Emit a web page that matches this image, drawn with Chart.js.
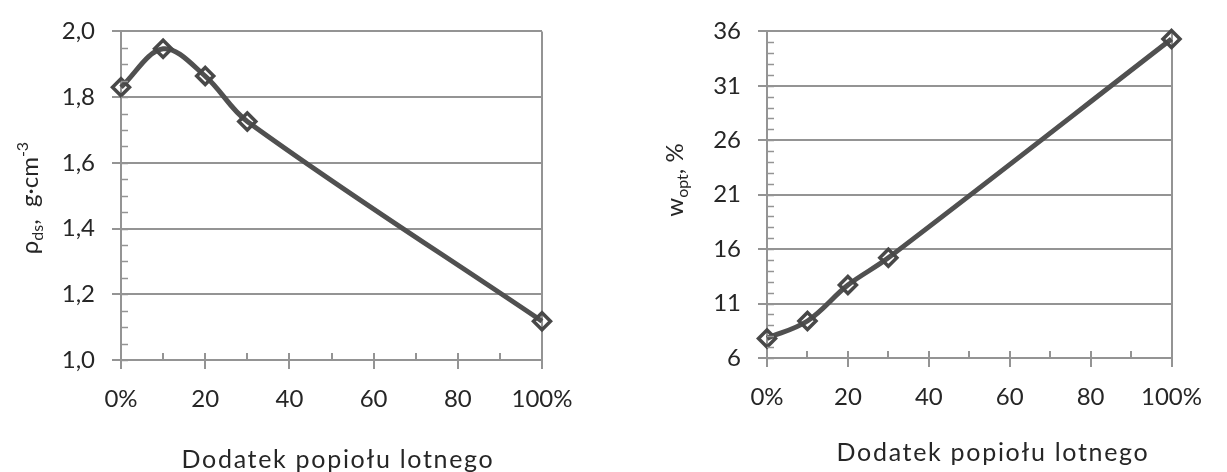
<!DOCTYPE html>
<html>
<head>
<meta charset="utf-8">
<script src="https://cdn.jsdelivr.net/npm/chart.js@4"></script>
<style>
  html, body { margin: 0; padding: 0; background: #fff; }
  #wrap { position: relative; width: 1227px; height: 472px; }
  .box { position: absolute; top: 0; height: 472px; }
  #b1 { left: 0; width: 600px; }
  #b2 { left: 600px; width: 627px; }
</style>
</head>
<body>
<div id="wrap">
  <div class="box" id="b1"><canvas id="chart1"></canvas></div>
  <div class="box" id="b2"><canvas id="chart2"></canvas></div>
</div>
<script>
// values
const additive = [0, 10, 20, 30, 100];
const density = [1.83, 1.947, 1.864, 1.726, 1.118];
const moisture = [7.8, 9.4, 12.7, 15.2, 35.3];
const xTicks = [0, 20, 40, 60, 80, 100];
const densityTicks = [1.0, 1.2, 1.4, 1.6, 1.8, 2.0];
const moistureTicks = [6, 11, 16, 21, 26, 31, 36];
const xTitle = 'Dodatek popiołu lotnego';

const FONT = 'Lato';
const gridColor = '#949494';
const lineColor = '#505050';
const textColor = '#262626';

function xLabel(v) {
  if (v === 0 || v === 100) return v + '%';
  return String(v);
}

// draws text with sub/superscripts, centred on (x, y)
function drawRich(ctx, parts, x, y, rotate, size, spacing) {
  const small = Math.round(size * 0.66);
  ctx.save();
  ctx.translate(x, y);
  if (rotate) ctx.rotate(-Math.PI / 2);
  ctx.fillStyle = textColor;
  ctx.textBaseline = 'alphabetic';
  ctx.textAlign = 'left';
  ctx.letterSpacing = (spacing || 0) + 'px';
  let total = 0;
  parts.forEach(p => {
    ctx.font = (p.m ? small : size) + 'px ' + FONT;
    p.w = ctx.measureText(p.t).width;
    total += p.w;
  });
  let cx = -total / 2;
  parts.forEach(p => {
    ctx.font = (p.m ? small : size) + 'px ' + FONT;
    let dy = 8;
    if (p.m === 'sub') dy = 13;
    if (p.m === 'sup') dy = -2;
    ctx.fillText(p.t, cx, dy);
    cx += p.w;
  });
  ctx.restore();
}

function extras(opts) {
  return {
    id: 'extras',
    afterDraw(chart) {
      const ctx = chart.ctx;
      const x = chart.scales.x;
      const y = chart.scales.y;
      const a = chart.chartArea;
      ctx.save();
      ctx.strokeStyle = gridColor;
      ctx.lineWidth = 1.5;
      // minor ticks on the y axis, inside the plot
      for (let v = y.min; v < y.max - 1e-9; v += opts.minorY) {
        const py = Math.round(y.getPixelForValue(v)) + 0.5;
        ctx.beginPath();
        ctx.moveTo(a.left, py);
        ctx.lineTo(a.left + 7, py);
        ctx.stroke();
      }
      // x ticks: majors cross the axis, minors above it
      ctx.lineWidth = 2;
      for (let v = 0; v <= 100; v += 10) {
        const px = Math.round(x.getPixelForValue(v));
        const major = v % 20 === 0;
        ctx.beginPath();
        ctx.moveTo(px, a.bottom - 7);
        ctx.lineTo(px, a.bottom + (major ? 9 : 0));
        ctx.stroke();
      }
      ctx.restore();
      drawRich(ctx, [{ t: xTitle }], opts.xt[0], opts.xt[1], false, 25, 1.7);
      drawRich(ctx, opts.yParts, opts.yt[0], opts.yt[1], true, 24, 0);
    }
  };
}

function makeChart(id, values, yTicks, yMin, yMax, fmt, leftW, padRight, padTop, xH, plugin) {
  return new Chart(document.getElementById(id), {
    type: 'line',
    data: {
      datasets: [{
        data: additive.map((v, i) => ({ x: v, y: values[i] })),
        borderColor: lineColor,
        borderWidth: 5,
        tension: 0.35,
        pointStyle: 'rectRot',
        pointRadius: 8.5,
        pointBorderWidth: 3.5,
        pointBorderColor: '#484848',
        pointBackgroundColor: 'rgba(255,255,255,0)',
        clip: false,
      }],
    },
    options: {
      responsive: true,
      maintainAspectRatio: false,
      animation: false,
      layout: { padding: { left: 0, right: padRight, top: padTop, bottom: 0 } },
      plugins: { legend: { display: false }, tooltip: { enabled: false } },
      scales: {
        x: {
          type: 'linear',
          min: 0,
          max: 100,
          afterBuildTicks: (s) => { s.ticks = xTicks.map(v => ({ value: v })); },
          afterFit: (s) => { s.height = xH; },
          grid: {
            drawTicks: false,
            lineWidth: 2,
            color: (c) => (c.tick && c.tick.value === 100 ? gridColor : 'rgba(0,0,0,0)'),
          },
          border: { display: true, color: gridColor, width: 2 },
          ticks: {
            padding: 25,
            color: textColor,
            font: { family: FONT, size: 24 },
            callback: (v) => xLabel(v),
            maxRotation: 0,
          },
        },
        y: {
          type: 'linear',
          min: yMin,
          max: yMax,
          afterBuildTicks: (s) => { s.ticks = yTicks.map(v => ({ value: v })); },
          afterFit: (s) => { s.width = leftW; },
          grid: { color: gridColor, lineWidth: 2, tickLength: 9 },
          border: { display: true, color: gridColor, width: 2 },
          ticks: {
            padding: 17,
            color: textColor,
            font: { family: FONT, size: 24 },
            callback: fmt,
          },
        },
      },
    },
    plugins: [plugin],
  });
}

makeChart('chart1', density, densityTicks, 1.0, 2.0,
  (v) => v.toFixed(1).replace('.', ','), 121, 58, 21, 112,
  extras({
    minorY: 0.05,
    xt: [338, 460],
    yt: [30, 198],
    yParts: [{ t: 'ρ' }, { t: 'ds', m: 'sub' }, { t: ',  g·cm' }, { t: '-3', m: 'sup' }],
  }));

makeChart('chart2', moisture, moistureTicks, 6, 36,
  (v) => String(v), 167, 37, 20, 114,
  extras({
    minorY: 1,
    xt: [993 - 600, 453],
    yt: [75, 180],
    yParts: [{ t: 'w' }, { t: 'opt', m: 'sub' }, { t: ', %' }],
  }));
</script>
</body>
</html>
